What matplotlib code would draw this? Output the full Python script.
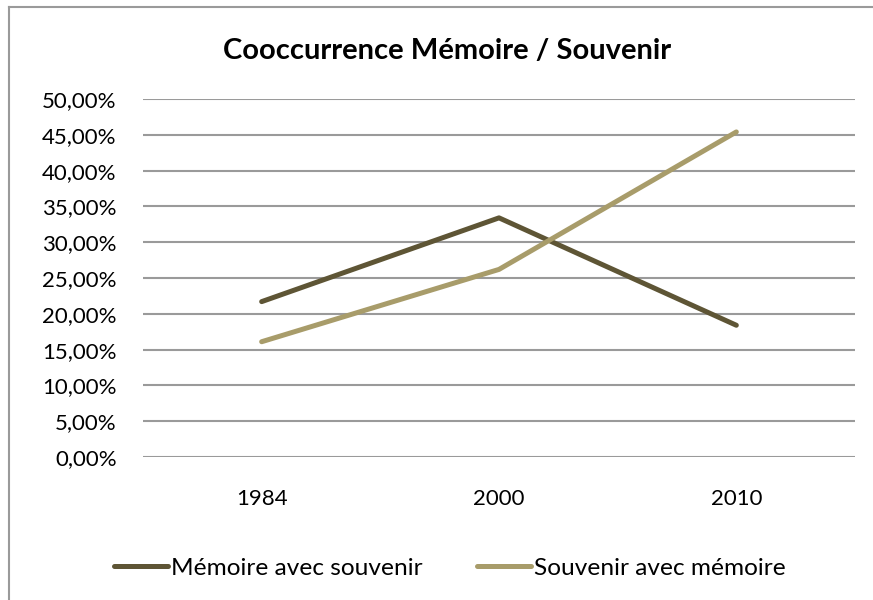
import matplotlib.pyplot as plt
from matplotlib.lines import Line2D
from matplotlib.ticker import FuncFormatter

# Data (fractions)
years = ['1984', '2000', '2010']
memoire_avec_souvenir = [0.217, 0.334, 0.184]
souvenir_avec_memoire = [0.161, 0.262, 0.454]
yticks = [i * 0.05 for i in range(11)]

dark = '#5E5535'
light = '#A89C6A'
grid = '#9A9A9A'

plt.rcParams['font.family'] = ['Lato', 'DejaVu Sans']

fig = plt.figure(figsize=(8.73, 6), dpi=100)
ax = fig.add_axes([143 / 873, 1 - 457 / 600, (855 - 143) / 873, (457 - 99) / 600])

x = range(len(years))
ax.plot(x, memoire_avec_souvenir, color=dark, lw=3.6, solid_capstyle='round',
        label='Mémoire avec souvenir', zorder=3)
ax.plot(x, souvenir_avec_memoire, color=light, lw=3.6, solid_capstyle='round',
        label='Souvenir avec mémoire', zorder=3)

ax.set_xlim(-0.5, 2.5)
ax.set_ylim(0, 0.5)
ax.set_xticks(list(x))
ax.set_xticklabels(years)
ax.set_yticks(yticks)
ax.yaxis.set_major_formatter(FuncFormatter(lambda v, p: f'{v * 100:.2f}%'.replace('.', ',')))
ax.tick_params(axis='both', length=0, labelsize=16, colors='black')
ax.tick_params(axis='y', pad=19)
ax.tick_params(axis='x', pad=23)
ax.grid(axis='y', color=grid, lw=1.5)
ax.set_axisbelow(True)
for s in ax.spines.values():
    s.set_visible(False)

fig.text(447 / 873, 1 - 51 / 600, 'Cooccurrence Mémoire / Souvenir', ha='center', va='center',
         fontsize=21, fontweight='bold')

handles = [Line2D([], [], color=dark, lw=3.6, solid_capstyle='round'),
           Line2D([], [], color=light, lw=3.6, solid_capstyle='round')]
fig.legend(handles, ['Mémoire avec souvenir', 'Souvenir avec mémoire'], loc='center',
           bbox_to_anchor=(450 / 873, 1 - 568 / 600), ncol=2, frameon=False, fontsize=17.6,
           handlelength=2.2, handletextpad=0.15, columnspacing=2.2)

# outer chart border (only top and left visible in the crop)
fig.add_artist(Line2D([8.5 / 873, 8.5 / 873], [0, 1 - 7 / 600], color=grid, lw=1.5))
fig.add_artist(Line2D([8.5 / 873, 1], [1 - 7 / 600, 1 - 7 / 600], color=grid, lw=1.5))

fig.savefig('out.png', dpi=100)
